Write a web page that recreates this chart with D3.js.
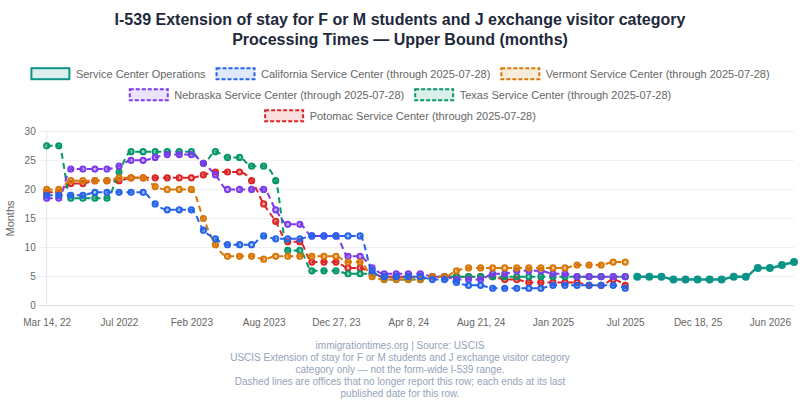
<!DOCTYPE html>
<html>
<head>
<meta charset="utf-8">
<script src="https://cdn.jsdelivr.net/npm/d3@7"></script>
<style>
  html, body { margin: 0; padding: 0; background: #fff; }
  svg { display: block; font-family: "Liberation Sans", Arial, Helvetica, sans-serif; }
</style>
</head>
<body>
<div id="chart"></div>
<script>
/*
 * Datos
 */
var tickLabels = ["Mar 14, 22", "Jul 2022", "Feb 2023", "Aug 2023", "Dec 27, 23", "Apr 8, 24",
                  "Aug 21, 24", "Jan 2025", "Jul 2025", "Dec 18, 25", "Jun 2026"];
var tickEvery = 6;

// Oficinas que ya no reportan esta fila (49 fechas cada una)
var california = [19, 19, 19, 19, 19.5, 19.5, 19.5, 19.5, 19.5, 17.5, 16.5, 16.5, 16.5, 13, 11.5, 10.5, 10.5,
                  10.5, 12, 11.5, 11.5, 11.5, 12, 12, 12, 12, 12, 6, 5, 5, 5, 5, 4.5, 4.5, 4, 3.5, 3.5,
                  3, 3, 3, 3, 3, 3.5, 3.5, 3.5, 3.5, 3.5, 3.5, 3];
var vermont = [20, 20, 21.5, 21.5, 21.5, 21.5, 22, 22, 22, 20.5, 20, 20, 20, 15, 10.5, 8.5, 8.5,
               8.5, 8, 8.5, 8.5, 8.5, 8.5, 8.5, 8.5, 7.5, 7.5, 5, 4.5, 4.5, 4.5, 4.5, 5, 5, 6, 6.5, 6.5,
               6.5, 6.5, 6.5, 6.5, 6.5, 6.5, 6.5, 7, 7, 7, 7.5, 7.5];
var nebraska = [18.5, 18.5, 23.5, 23.5, 23.5, 23.5, 24, 25, 25, 25.5, 26, 26, 26, 24.5, 22.5, 20, 20,
                20, 20, 16.5, 14, 14, 12, 12, 12, 8.5, 8.5, 6.5, 5.5, 5.5, 5.5, 5.5, 5, 5, 4.5, 4.5, 4.5,
                5.5, 5.5, 6, 6, 6, 5.5, 5.5, 5, 5, 5, 5, 5];
var texas = [27.5, 27.5, 18.5, 18.5, 18.5, 18.5, 23, 26.5, 26.5, 26.5, 26.5, 26.5, 26.5, 24.5, 26.5, 25.5, 25.5,
             24, 24, 21.5, 9.5, 9.5, 6, 6, 6, 5.5, 5.5, 5.5, 4.5, 4.5, 4.5, 4.5, 5, 5, 5, 5, 5,
             5, 5, 5, 5, 5, 5, 5, 5, 5, 5, 5, 5];
var potomac = [19.5, 19.5, 21, 21, 21.5, 21.5, 21.5, 22, 22, 22, 22, 22, 22, 22.5, 23, 23, 23,
               21.5, 17.5, 14.5, 11, 11, 7.5, 7.5, 7.5, 6.5, 6.5, 5.5, 5, 5, 5, 5, 5, 5, 5, 5, 5,
               5, 4.5, 4.5, 4, 4, 4, 4, 4, 3.5, 3.5, 4.5, 3.5];

// Service Center Operations sigue despues de la ultima fecha de las oficinas
var operations = [5, 5, 5, 4.5, 4.5, 4.5, 4.5, 4.5, 5, 5, 6.5, 6.5, 7, 7.5];

var seriesNames = ["Service Center Operations",
                   "California Service Center (through 2025-07-28)",
                   "Vermont Service Center (through 2025-07-28)",
                   "Nebraska Service Center (through 2025-07-28)",
                   "Texas Service Center (through 2025-07-28)",
                   "Potomac Service Center (through 2025-07-28)"];
var seriesColors = ["#0d9488", "#2563eb", "#d97706", "#7c3aed", "#059669", "#dc2626"];

var titleLines = ["I-539 Extension of stay for F or M students and J exchange visitor category",
                  "Processing Times \u2014 Upper Bound (months)"];
var footerLines = ["immigrationtimes.org | Source: USCIS",
                   "USCIS Extension of stay for F or M students and J exchange visitor category",
                   "category only \u2014 not the form-wide I-539 range.",
                   "Dashed lines are offices that no longer report this row; each ends at its last",
                   "published date for this row."];

/*
 * Armar series
 */
var offset = california.length;
var totalFechas = offset + operations.length;

var series = [
  { name: seriesNames[0], color: seriesColors[0], dashed: false, values: operations.map(function(v, i){ return { i: i + offset, v: v }; }) },
  { name: seriesNames[1], color: seriesColors[1], dashed: true, values: california.map(function(v, i){ return { i: i, v: v }; }) },
  { name: seriesNames[2], color: seriesColors[2], dashed: true, values: vermont.map(function(v, i){ return { i: i, v: v }; }) },
  { name: seriesNames[3], color: seriesColors[3], dashed: true, values: nebraska.map(function(v, i){ return { i: i, v: v }; }) },
  { name: seriesNames[4], color: seriesColors[4], dashed: true, values: texas.map(function(v, i){ return { i: i, v: v }; }) },
  { name: seriesNames[5], color: seriesColors[5], dashed: true, values: potomac.map(function(v, i){ return { i: i, v: v }; }) }
];

var svgWidth = 800;
var svgHeight = 400;
var plot = { left: 46.7, right: 794, top: 131.3, bottom: 305.7 };
var dash = "6,4";

var svg = d3.select("#chart")
  .append("svg")
  .attr("width", svgWidth)
  .attr("height", svgHeight);

var x = d3.scalePoint()
  .domain(d3.range(totalFechas))
  .range([plot.left, plot.right]);

var y = d3.scaleLinear()
  .domain([0, 30])
  .range([plot.bottom, plot.top]);

function tint(c, a) {
  var col = d3.color(c);
  col.opacity = a;
  return col.formatRgb();
}

// Titulo
svg.append("g").selectAll("text")
  .data(titleLines)
  .enter().append("text")
  .attr("x", svgWidth / 2)
  .attr("y", function(d, i){ return 25 + i * 20; })
  .attr("text-anchor", "middle")
  .attr("font-size", 16)
  .attr("font-weight", "bold")
  .attr("fill", "#1e293b")
  .text(function(d){ return d; });

/*
 * Leyenda (filas centradas)
 */
var legend = svg.append("g");
var boxW = 40, boxH = 11, fontSize = 11, itemGap = 10, maxRow = 780;
var items = series.map(function(s) {
  var t = legend.append("text")
    .attr("font-size", fontSize)
    .attr("fill", "#666")
    .attr("dominant-baseline", "central")
    .text(s.name);
  var w = t.node().getComputedTextLength();
  return { s: s, t: t, w: boxW + fontSize / 2 + w };
});

var rows = [[]];
var rowW = 0;
items.forEach(function(it) {
  var add = (rows[rows.length - 1].length ? itemGap : 0) + it.w;
  if (rowW + add > maxRow && rows[rows.length - 1].length) {
    rows.push([]);
    rowW = it.w;
  } else {
    rowW += add;
  }
  rows[rows.length - 1].push(it);
});

rows.forEach(function(row, r) {
  var total = d3.sum(row, function(d){ return d.w; }) + itemGap * (row.length - 1);
  var cx = (svgWidth - total) / 2;
  var cy = 73.7 + r * 21;
  row.forEach(function(it) {
    legend.append("rect")
      .attr("x", cx + 1)
      .attr("y", cy - boxH / 2)
      .attr("width", boxW - 2)
      .attr("height", boxH)
      .attr("fill", tint(it.s.color, 0.15))
      .attr("stroke", it.s.color)
      .attr("stroke-width", 2)
      .attr("stroke-dasharray", it.s.dashed ? "4,2" : null);
    it.t.attr("x", cx + boxW + fontSize / 2).attr("y", cy);
    cx += it.w + itemGap;
  });
});

/*
 * Ejes
 */
var grid = svg.append("g");
grid.selectAll("line")
  .data(y.ticks(6))
  .enter().append("line")
  .attr("x1", plot.left - 8)
  .attr("x2", plot.right)
  .attr("y1", function(d){ return y(d); })
  .attr("y2", function(d){ return y(d); })
  .attr("stroke", function(d){ return d === 0 ? "#d9dce3" : "#eceef3"; })
  .attr("stroke-width", 1);

grid.append("line")
  .attr("x1", plot.left).attr("x2", plot.left)
  .attr("y1", plot.top).attr("y2", plot.bottom)
  .attr("stroke", "#e3e5ea");

var yAxis = svg.append("g")
  .attr("transform", "translate(" + (plot.left - 8) + ",0)")
  .call(d3.axisLeft(y).ticks(6).tickSize(0).tickPadding(3));
yAxis.select(".domain").remove();
yAxis.selectAll("text").attr("font-size", 10).attr("fill", "#666").attr("font-family", null);

var tickIdx = tickLabels.map(function(d, k){ return k * tickEvery; });
var xAxis = svg.append("g")
  .attr("transform", "translate(0," + plot.bottom + ")")
  .call(d3.axisBottom(x).tickValues(tickIdx).tickSize(0).tickPadding(13)
    .tickFormat(function(d){ return tickLabels[d / tickEvery]; }));
xAxis.select(".domain").remove();
xAxis.selectAll("text").attr("font-size", 10).attr("fill", "#666").attr("font-family", null);

svg.append("text")
  .attr("transform", "translate(14," + ((plot.top + plot.bottom) / 2) + ") rotate(-90)")
  .attr("text-anchor", "middle")
  .attr("font-size", 11)
  .attr("fill", "#666")
  .text("Months");

/*
 * Lineas y puntos (el primer dataset queda arriba)
 */
var line = d3.line()
  .x(function(d){ return x(d.i); })
  .y(function(d){ return y(d.v); })
  .curve(d3.curveMonotoneX);

var lineas = svg.append("g");
series.slice().reverse().forEach(function(s) {
  var g = lineas.append("g");
  g.append("path")
    .datum(s.values)
    .attr("d", line)
    .attr("fill", "none")
    .attr("stroke", s.color)
    .attr("stroke-width", s.dashed ? 2 : 2.5)
    .attr("stroke-dasharray", s.dashed ? dash : null);
  g.selectAll("circle")
    .data(s.values)
    .enter().append("circle")
    .attr("cx", function(d){ return x(d.i); })
    .attr("cy", function(d){ return y(d.v); })
    .attr("r", s.dashed ? 2.6 : 3)
    .attr("fill", s.dashed ? tint(s.color, 0.4) : s.color)
    .attr("stroke", s.color)
    .attr("stroke-width", 2);
});

// Pie
svg.append("g").selectAll("text")
  .data(footerLines)
  .enter().append("text")
  .attr("x", svgWidth / 2)
  .attr("y", function(d, i){ return 348.5 + i * 12.2; })
  .attr("text-anchor", "middle")
  .attr("font-size", 10)
  .attr("fill", "#94a3b8")
  .text(function(d){ return d; });
</script>
</body>
</html>
